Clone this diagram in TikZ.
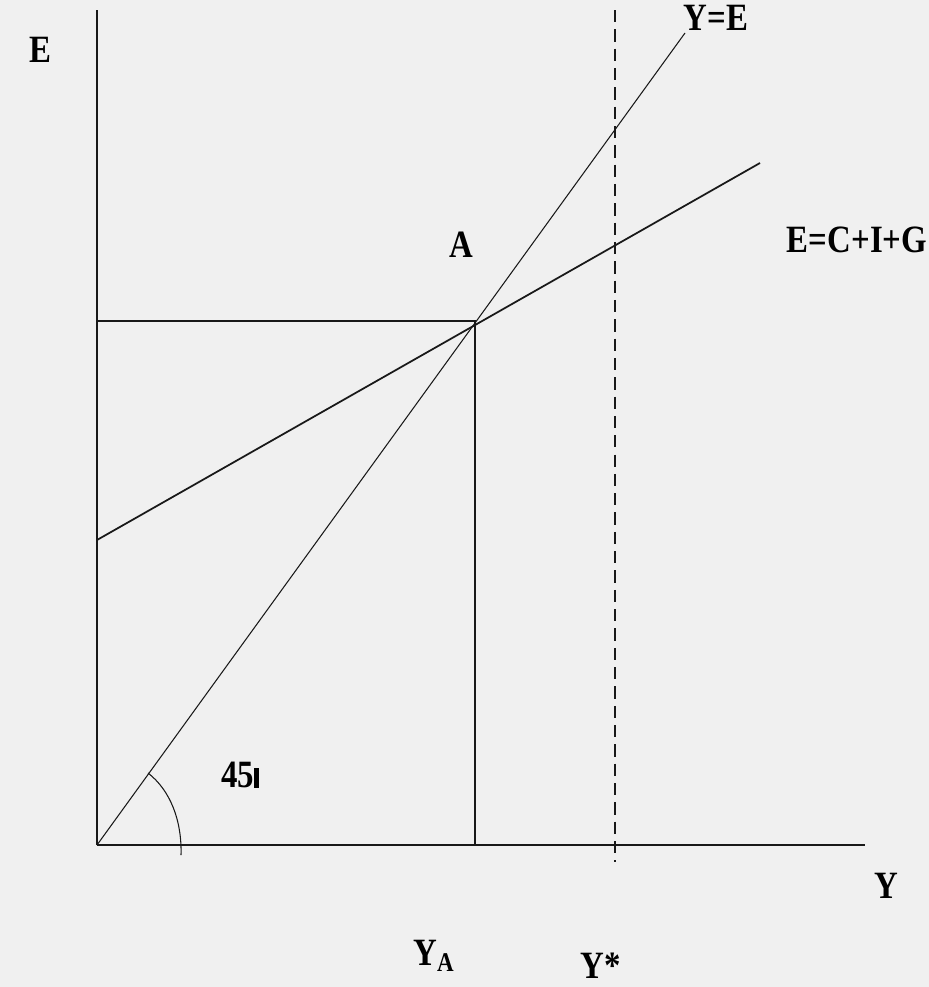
\documentclass[tikz,border=0pt]{standalone}
\usepackage{fontspec}
\setmainfont{Liberation Serif}
\usepackage{tikz}
\usepackage{xcolor}
\definecolor{paper}{RGB}{240,240,240}
\definecolor{ink}{RGB}{25,25,25}
\tikzset{
  lbl/.style={font=\fontsize{22}{24}\selectfont\bfseries, text=black, inner sep=0pt, xscale=0.85},
  thin line/.style={draw=ink, line width=0.6pt}
}

\begin{document}
\begin{tikzpicture}[x=0.02cm, y=-0.02cm]
  % page
  \fill[paper] (0,0) rectangle (929,987);
  \useasboundingbox (0,0) rectangle (929,987);
  % axes
  \coordinate (O) at (97,845);
  \coordinate (ytop) at (97,10);
  \coordinate (xend) at (865,845);
  \draw[thin line] (O) -- (ytop);
  \draw[thin line, line width=0.9pt] (O) -- (xend);
  % 45 degree line and spending line
  \coordinate (A) at (475,321);
  \coordinate (yeend) at (685,33);
  \coordinate (estart) at (97,540);
  \coordinate (eend) at (760,163);
  \draw[thin line] (O) -- (yeend);
  \draw[draw=ink, line width=1pt] (estart) -- (eend);
  % equilibrium
  \coordinate (Ey) at (97,321);
  \coordinate (YA) at (475,845);
  \draw[thin line] (Ey) -- (A) -- (YA);
  \draw[draw=ink, line width=1.5pt] (475,680) -- (475,725);
  % full employment
  \coordinate (ystop) at (615,10);
  \coordinate (ysbot) at (615,862);
  \draw[thin line, dash pattern=on 7pt off 4pt] (ystop) -- (ysbot);
  % angle
  \draw[thin line] (148,773) .. controls (170,790) and (182,820) .. (181,855);
  % labels
  \node[lbl] (lE) at (40,50) {E};
  \node[lbl] (lYE) at (716,18) {Y=E};
  \node[lbl] (lAD) at (857,240) {E=C+I+G};
  \node[lbl] (lA) at (461,245) {A};
  \node[lbl] (l45) at (240,775) {45\rule{3pt}{11pt}};
  \node[lbl] (lY) at (886,886) {Y};
  \node[lbl] (lYA) at (434,956) {Y$_{\mathbf{A}}$};
  \node[lbl] (lYs) at (601,966) {Y*};
\end{tikzpicture}
\end{document}
